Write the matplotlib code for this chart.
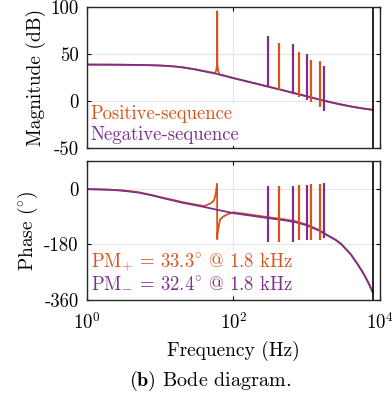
import numpy as np
from matplotlib import pyplot as plt
from matplotlib.lines import Line2D

plt.rcParams['font.family'] = ['cmr10', 'DejaVu Serif']
plt.rcParams['mathtext.fontset'] = 'cm'
plt.rcParams['axes.unicode_minus'] = False
plt.rcParams['font.size'] = 13

ORANGE = '#D95319'
PURPLE = '#7E2F8E'

# base curves, Hz
freq = [1, 2, 3, 5, 7.6, 10, 15, 20, 30, 40, 60, 100, 200, 300, 500, 700,
        1000, 1500, 1800, 2500, 3000, 4000, 5000, 6000, 7000, 8000]
mag = [38.7, 38.6, 38.5, 38.3, 38.0, 37.7, 36.8, 35.8, 33.6, 31.6, 28.7, 24.3,
       18.6, 15.2, 10.9, 8.0, 5.0, 1.5, 0.0, -2.6, -3.9, -5.8, -7.1, -8.1,
       -8.8, -9.4]
phase_neg = [-1, -3, -6, -12, -21, -28, -38, -45, -53, -59, -68, -79, -89, -95,
             -102, -108, -118, -136, -147, -166, -180, -212, -245, -275, -305,
             -335]
phase_pos = [-1, -3, -5, -11, -20, -27, -36, -43, -51, -56, -65, -76, -86, -92,
             -99, -105, -116, -134, -146, -165, -180, -212, -245, -275, -305,
             -335]

# 60 Hz resonance of the positive-sequence loop
res_f_mag = [56, 58, 59.6, 60, 60.4, 62, 64]
res_mag = [29.7, 32, 38, 95.5, 38, 32, 28.5]
res_f_ph = [50, 54.5, 57, 59.8, 60, 60.3, 61, 63, 65.5, 72.5, 84]
res_ph = [-46, -36, -19, 16, -163, -150, -140, -122, -100, -90, -82]

# harmonic resonances (vertical spikes)
neg_sf = [300, 660, 1020, 1720]
neg_mag_top = [69.5, 60.6, 50.0, 37.2]
neg_mag_bot = [15.2, 7.4, 1.1, -10.6]
neg_ph_top = [7.5, 9.7, 13, 19.5]
neg_ph_bot = [-171, -171, -167, -160]

pos_sf = [420, 780, 1140, 1500]
pos_mag_top = [61.4, 52.0, 43.3, 42.6]
pos_mag_bot = [11.7, 4.6, -1.1, -6.1]
pos_ph_top = [9.7, 10.8, 15, 16]
pos_ph_bot = [-171, -165, -167, -165]


def merge(f, y, rf, ry, lo, hi):
    f = np.array(f, float)
    y = np.array(y, float)
    keep = (f < lo) | (f > hi)
    fa = np.concatenate([f[keep], rf])
    ya = np.concatenate([y[keep], ry])
    o = np.argsort(fa, kind='stable')
    return fa[o], ya[o]


fig = plt.figure(figsize=(3.92, 3.94), dpi=100)
ax1 = fig.add_axes([0.222, 0.6244, 0.747, 0.358])
ax2 = fig.add_axes([0.222, 0.2386, 0.747, 0.3528])

fm, ym = merge(freq, mag, res_f_mag, res_mag, 50, 70)
ax1.plot(fm, ym, color=ORANGE, lw=1.3)
ax1.plot(freq, mag, color=PURPLE, lw=1.3)
ax1.vlines(pos_sf, pos_mag_bot, pos_mag_top, color=ORANGE, lw=1.6)
ax1.vlines(neg_sf, neg_mag_bot, neg_mag_top, color=PURPLE, lw=1.6)

fp, yp = merge(freq, phase_pos, res_f_ph, res_ph, 45, 90)
ax2.plot(fp, yp, color=ORANGE, lw=1.3)
ax2.plot(freq, phase_neg, color=PURPLE, lw=1.3)
ax2.vlines(pos_sf, pos_ph_bot, pos_ph_top, color=ORANGE, lw=1.6)
ax2.vlines(neg_sf, neg_ph_bot, neg_ph_top, color=PURPLE, lw=1.6)

for ax in (ax1, ax2):
    ax.set_xscale('log')
    ax.set_xlim(1, 1e4)
    ax.set_xticks([1, 100, 1e4])
    ax.minorticks_off()
    ax.axvline(8000, color='black', lw=1.2)
    ax.grid(True, color='#e6e6e6', lw=0.8)
    ax.set_axisbelow(True)
    ax.tick_params(direction='in', top=True, right=True, length=3, pad=6,
                   labelsize=13.5)
    ax.tick_params(axis='x', pad=9)
    for s in ax.spines.values():
        s.set_color('#262626')
        s.set_linewidth(1.0)

ax1.set_xticklabels([])
ax1.set_ylim(-50, 100)
ax1.set_yticks([-50, 0, 50, 100])
ax1.set_yticklabels(['-50', '0', '50', '100'])
ax1.set_ylabel('Magnitude (dB)', fontsize=14, labelpad=3)

ax2.set_ylim(-360, 90)
ax2.set_yticks([-360, -180, 0])
ax2.set_yticklabels(['-360', '-180', '0'])
ax2.set_xticklabels(['$10^{0}$', '$10^{2}$', '$10^{4}$'])
ax2.set_ylabel('Phase ($^{\\circ}$)', fontsize=14, labelpad=3)
ax2.set_xlabel('Frequency (Hz)', fontsize=14, labelpad=5)

h1 = [Line2D([], [], color=ORANGE), Line2D([], [], color=PURPLE)]
leg_kw = dict(loc='lower left', handlelength=0, handletextpad=0,
              labelcolor='linecolor', frameon=True, framealpha=1,
              edgecolor='none', fancybox=False, borderpad=0.1,
              borderaxespad=0.1, fontsize=13.5)
ax1.legend(h1, ['Positive-sequence', 'Negative-sequence'],
           labelspacing=0.15, **leg_kw)
ax2.legend(h1, ['PM$_{+}$ = 33.3$^{\\circ}$ @ 1.8 kHz',
                'PM$_{-}$ = 32.4$^{\\circ}$ @ 1.8 kHz'],
           labelspacing=0.0, bbox_to_anchor=(0, 0.035), **leg_kw)

fig.text(0.536, 0.02, '$\\mathbf{(b)}$ Bode diagram.', ha='center',
         fontsize=14.5)

fig.savefig('out.png', dpi=100)
